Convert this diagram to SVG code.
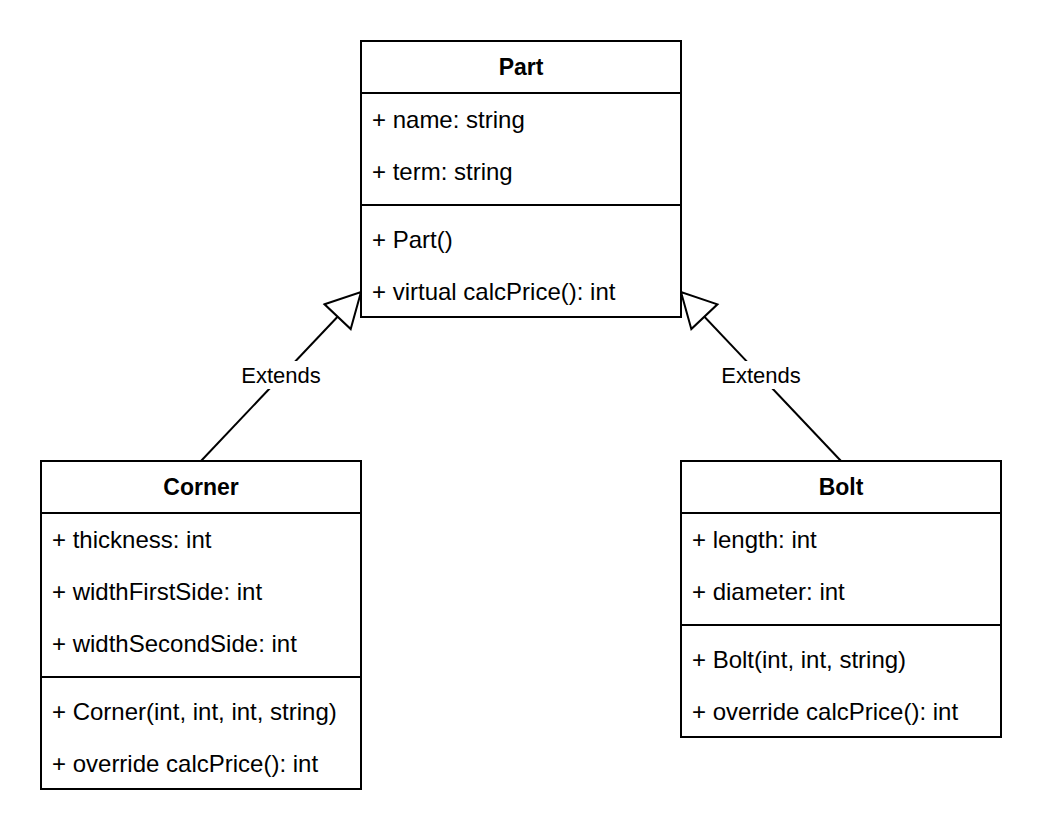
<svg xmlns="http://www.w3.org/2000/svg" width="1042" height="836" viewBox="0 0 1042 836">
<style>
  .box { fill: #ffffff; stroke: #000000; stroke-width: 2; }
  .sep { stroke: #000000; stroke-width: 2; fill: none; }
  .title { font-family: "Liberation Sans", Arial, Helvetica, sans-serif; font-size: 23px; font-weight: bold; fill: #000000; text-anchor: middle; }
  .member { font-family: "Liberation Sans", Arial, Helvetica, sans-serif; font-size: 24px; fill: #000000; }
  .edge { stroke: #000000; stroke-width: 2; fill: none; marker-end: url(#extends); }
  .lblbg { fill: #ffffff; stroke: none; }
  .lbl { font-family: "Liberation Sans", Arial, Helvetica, sans-serif; font-size: 22px; fill: #000000; text-anchor: middle; }
</style>
<defs>
  <marker id="extends" markerUnits="userSpaceOnUse" viewBox="-2 -20 38 40" refX="34" refY="0" markerWidth="38" markerHeight="40" orient="auto" overflow="visible">
    <path d="M0,-18 L34,0 L0,18 Z" fill="#ffffff" stroke="#000000" stroke-width="2" stroke-linejoin="miter"/>
  </marker>
</defs>
<rect width="1042" height="836" fill="#ffffff"/>

<g id="connectors">
  <g id="edge-corner-part">
    <line class="edge" x1="201" y1="461" x2="361" y2="292"/>
    <rect class="lblbg" x="240" y="361" width="82" height="28"/>
    <text class="lbl" x="281" y="383">Extends</text>
  </g>
  <g id="edge-bolt-part">
    <line class="edge" x1="841" y1="461" x2="681" y2="292"/>
    <rect class="lblbg" x="720" y="361" width="82" height="28"/>
    <text class="lbl" x="761" y="383">Extends</text>
  </g>
</g>

<g id="node-part">
  <rect class="box" x="361" y="41" width="320" height="276"/>
  <line class="sep" x1="361" y1="93" x2="681" y2="93"/>
  <line class="sep" x1="361" y1="205" x2="681" y2="205"/>
  <text class="title" x="521" y="75">Part</text>
  <text class="member" x="372" y="127.5">+ name: string</text>
  <text class="member" x="372" y="179.5">+ term: string</text>
  <text class="member" x="372" y="247.5">+ Part()</text>
  <text class="member" x="372" y="299.5">+ virtual calcPrice(): int</text>
</g>

<g id="node-corner">
  <rect class="box" x="41" y="461" width="320" height="328"/>
  <line class="sep" x1="41" y1="513" x2="361" y2="513"/>
  <line class="sep" x1="41" y1="677" x2="361" y2="677"/>
  <text class="title" x="201" y="495">Corner</text>
  <text class="member" x="52" y="547.5">+ thickness: int</text>
  <text class="member" x="52" y="599.5">+ widthFirstSide: int</text>
  <text class="member" x="52" y="651.5">+ widthSecondSide: int</text>
  <text class="member" x="52" y="719.5">+ Corner(int, int, int, string)</text>
  <text class="member" x="52" y="771.5">+ override calcPrice(): int</text>
</g>

<g id="node-bolt">
  <rect class="box" x="681" y="461" width="320" height="276"/>
  <line class="sep" x1="681" y1="513" x2="1001" y2="513"/>
  <line class="sep" x1="681" y1="625" x2="1001" y2="625"/>
  <text class="title" x="841" y="495">Bolt</text>
  <text class="member" x="692" y="547.5">+ length: int</text>
  <text class="member" x="692" y="599.5">+ diameter: int</text>
  <text class="member" x="692" y="667.5">+ Bolt(int, int, string)</text>
  <text class="member" x="692" y="719.5">+ override calcPrice(): int</text>
</g>
</svg>
